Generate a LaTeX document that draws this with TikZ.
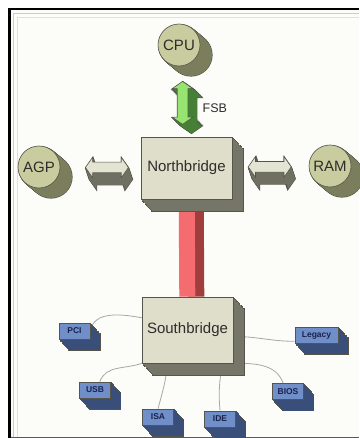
\documentclass[tikz,border=0pt]{standalone}
\usepackage{fontspec}
\setmainfont{Liberation Sans}
\usepackage{xcolor}
\usetikzlibrary{shapes,arrows.meta,positioning,calc}

\definecolor{paper}{RGB}{252,252,249}
\definecolor{edge}{RGB}{85,85,75}
\definecolor{ink}{RGB}{45,45,45}
\definecolor{chipface}{RGB}{222,222,202}
\definecolor{chipside}{RGB}{118,118,104}
\definecolor{ballface}{RGB}{200,204,158}
\definecolor{ballside}{RGB}{122,126,92}
\definecolor{busface}{RGB}{228,228,210}
\definecolor{busside}{RGB}{112,112,98}
\definecolor{fsbface}{RGB}{152,228,112}
\definecolor{fsbside}{RGB}{70,128,55}
\definecolor{linkface}{RGB}{244,108,112}
\definecolor{linkside}{RGB}{160,62,62}
\definecolor{portface}{RGB}{112,142,200}
\definecolor{portside}{RGB}{58,78,122}
\definecolor{porttext}{RGB}{25,35,78}
\definecolor{wiregray}{RGB}{168,168,160}

\pgfdeclarelayer{paperlayer}
\pgfdeclarelayer{links}
\pgfsetlayers{paperlayer,links,main}

\begin{document}
\begin{tikzpicture}[
    x=1pt, y=1pt,
    bulk/.code 2 args={\def\bx{#1}\def\by{#2}},
    sideface/.style={fill=chipside},
    rim/.style={preaction={fill=none, draw=edge, line width=1.2pt, transform canvas={shift={(#1*\bx,-#1*\by)}}}},
    slab/.style={preaction={draw=none, sideface, transform canvas={shift={(#1*\bx,-#1*\by)}}}},
    extrude/.style={rim=1, rim=.9375, rim=.875, rim=.8125, rim=.75, rim=.6875, rim=.625, rim=.5625,
                    rim=.5, rim=.4375, rim=.375, rim=.3125, rim=.25, rim=.1875, rim=.125, rim=.0625,
                    slab=1, slab=.9375, slab=.875, slab=.8125, slab=.75, slab=.6875, slab=.625, slab=.5625,
                    slab=.5, slab=.4375, slab=.375, slab=.3125, slab=.25, slab=.1875, slab=.125, slab=.0625},
    chip/.style={rectangle, draw=edge, line width=.6pt, fill=chipface, minimum width=91pt, minimum height=62pt, inner sep=0pt, font=\fontsize{15}{17}\selectfont, text=ink, bulk={11pt}{12pt}, sideface/.style={fill=chipside}, extrude},
    ball/.style={circle, draw=edge, line width=.6pt, fill=ballface, minimum size=42pt, inner sep=0pt, font=\fontsize{15}{17}\selectfont, text=ink, bulk={12pt}{10pt}, sideface/.style={fill=ballside}, extrude},
    port/.style={rectangle, draw=edge, line width=.6pt, fill=portface, minimum width=31pt, minimum height=16pt, inner sep=2pt, font=\fontsize{8.5}{10}\selectfont\bfseries, text=porttext, bulk={10pt}{11pt}, sideface/.style={fill=portside}, extrude},
    bus/.style={double arrow, double arrow tip angle=110, double arrow head extend=5pt, minimum height=43pt, inner sep=5pt, draw=edge, line width=.6pt, fill=busface, bulk={4pt}{12pt}, sideface/.style={fill=busside}, extrude},
    fsbbus/.style={bus, shape border rotate=90, fill=fsbface, bulk={9pt}{9pt}, sideface/.style={fill=fsbside}},
    hub/.style={draw=linkface, line width=16pt, preaction={draw=linkside, line width=16pt, transform canvas={shift={(9pt,0pt)}}}},
    wire/.style={draw=wiregray, line width=.8pt}
]
    \useasboundingbox (0,0) rectangle (359,-438);

    % frame of the slide
    \begin{pgfonlayer}{paperlayer}
        \fill[white] (0,0) rectangle (359,-438);
        \fill[paper] (11,-10.5) rectangle (359,-436.5);
        \fill[black] (8,-8) rectangle (11,-438);
        \fill[black] (8,-8) rectangle (359,-10.5);
        \draw[black!20, line width=.8pt] (13,-436.5) |- (359,-13);
        \draw[black!12, line width=.8pt] (17.5,-436.5) |- (359,-17.5);
        \fill[black!65] (11,-436.5) rectangle (359,-438);
    \end{pgfonlayer}

    % chipset
    \node [chip] (nb) at (186.5,-168) {Northbridge};
    \node [chip, minimum height=66pt] (sb) at (187.5,-330) {Southbridge};

    \node [ball] (cpu) at (179,-45) {CPU};
    \node [ball] (agp) at (39,-167) {AGP};
    \node [ball] (ram) at (330,-166) {RAM};

    \path (cpu) -- node [fsbbus, pos=.52] (fsb) {} (nb);
    \path (agp) -- node [bus, pos=.58] (agpbus) {} (nb);
    \path (nb) -- node [bus, pos=.49] (rambus) {} (ram);
    \node [font=\fontsize{12.5}{14}\selectfont, text=ink, right=11pt of fsb, yshift=-5pt] (fsbtag) {FSB};

    % devices on the southbridge
    \node [port] (pci) at (74.5,-331) {PCI};
    \node [port] (usb) at (95,-390) {USB};
    \node [port] (isa) at (158,-417) {ISA};
    \node [port] (ide) at (220,-419) {IDE};
    \node [port] (bios) at (288,-391.5) {BIOS};
    \node [port, minimum width=43pt] (legacy) at (316.5,-335) {Legacy};

    \begin{pgfonlayer}{links}
        \draw [hub] (nb) -- (sb);
        \draw [wire] (sb.165) to[out=170, in=80] (pci.east);
        \draw [wire] (sb.south west) to[out=200, in=70] (usb.60);
        \draw [wire] ([xshift=-20pt]sb.south) to[out=-95, in=75] (isa.north);
        \draw [wire] ([xshift=35pt]sb.south) to[out=-100, in=95] (ide.north);
        \draw [wire] (sb.south east) to[out=0, in=110] (bios.120);
        \draw [wire] (sb.-8) to[out=0, in=180] ([yshift=2pt]legacy.south west);
    \end{pgfonlayer}
\end{tikzpicture}
\end{document}
